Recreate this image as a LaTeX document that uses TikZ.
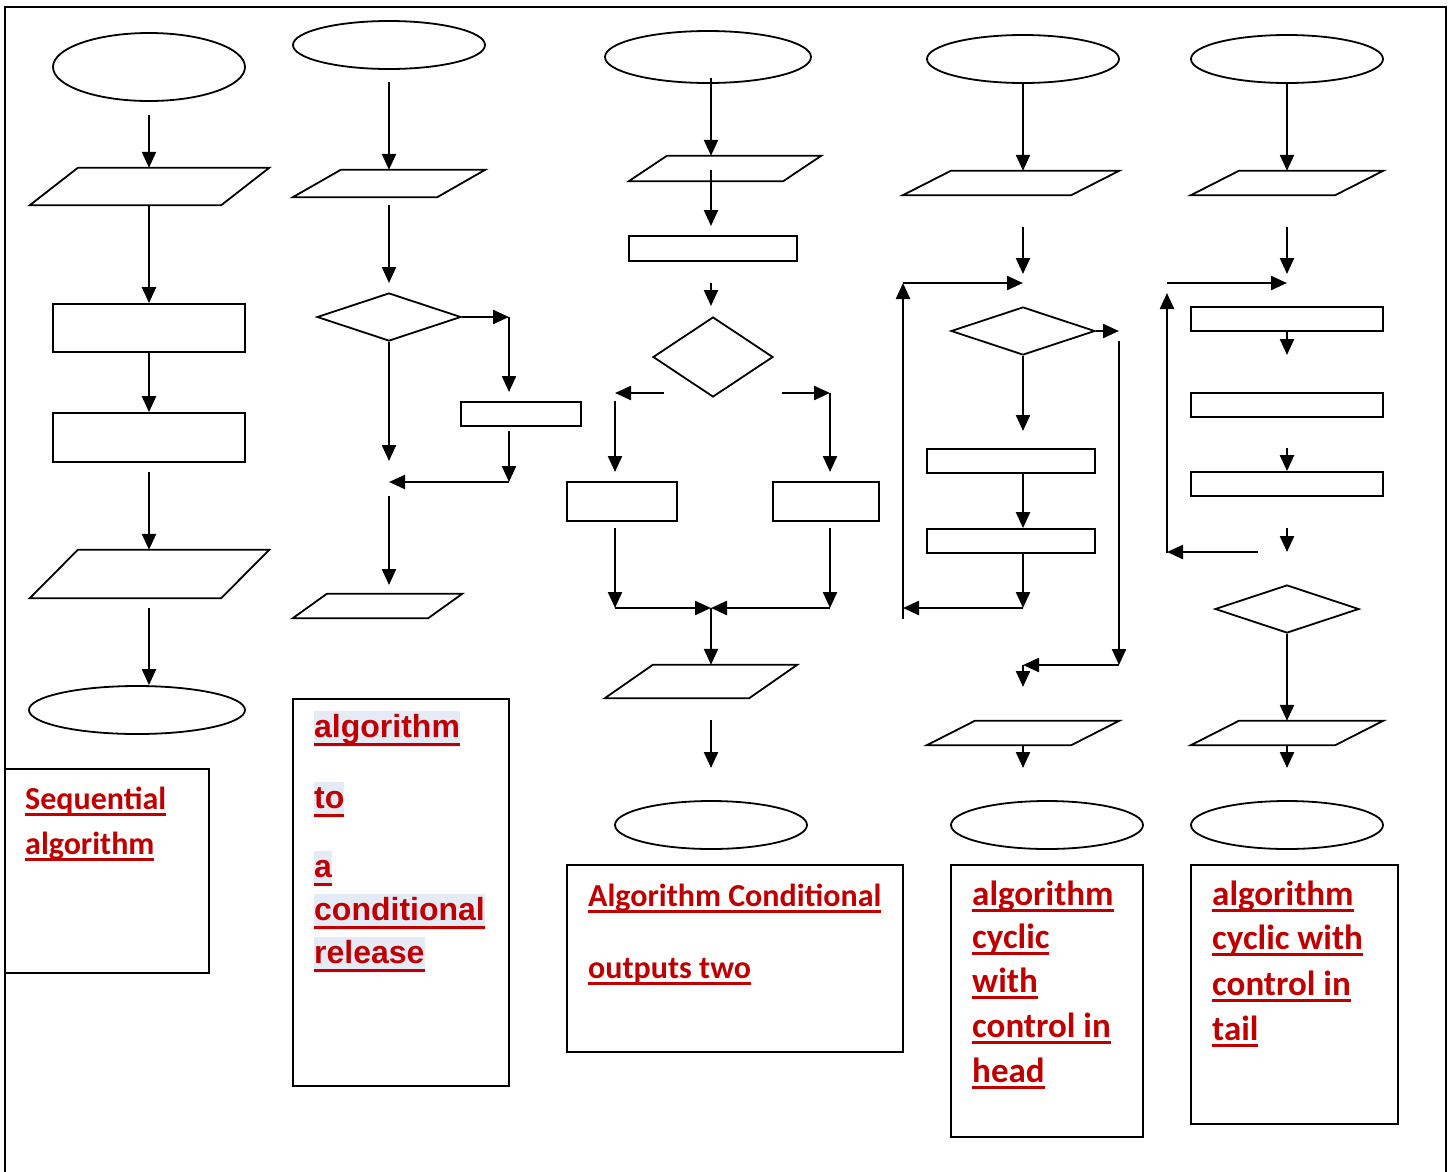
\documentclass[tikz,border=0pt]{standalone}
\usepackage{fontspec}
\usetikzlibrary{shapes.geometric,arrows.meta,calc}
\newfontfamily\calfont{Carlito}
\newfontfamily\arfont{Liberation Sans}
\definecolor{txtred}{HTML}{C00000}
\definecolor{hlc}{HTML}{E5EAF7}
\newcommand\myul[1]{\setbox0=\hbox{#1}\rlap{\rule[-7pt]{\wd0}{3pt}}\box0}
\newcommand\myhl[1]{\setbox0=\hbox{#1}\rlap{\color{hlc}\rule[-10pt]{\wd0}{36pt}}\rlap{\rule[-9pt]{\wd0}{3.5pt}}\box0}
% style, name, x1, y1, x2, y2
\newcommand\BoxAt[6]{\node[#1, minimum width={#5-#3}, minimum height={#6-#4}] (#2) at ({(#3+#5)/2},{(#4+#6)/2}) {};}
% name, x1, y1, x2, y2, slant
\newcommand\ParaAt[6]{\node[iobox, minimum width={#4-#2}, minimum height={#5-#3}] (#1) at ({(#2+#4)/2},{(#3+#5)/2}) {};
  \draw[shp] ($(#1.north west)+(#6,0)$) -- (#1.north east) -- ($(#1.south east)-(#6,0)$) -- (#1.south west) -- cycle;}
\tikzset{
  shp/.style={line width=1.8pt, line join=miter},
  arr/.style={line width=2.3pt, -{Triangle[length=16pt,width=14pt]}},
  term/.style={ellipse, draw, shp, inner sep=0pt},
  proc/.style={rectangle, draw, shp, inner sep=0pt},
  dec/.style={diamond, draw, shp, inner sep=0pt},
  iobox/.style={rectangle, inner sep=0pt},
  lbl/.style={rectangle, draw, line width=2pt, inner sep=0pt},
  caltxt/.style={anchor=base west, inner sep=0pt, text=txtred, font=\calfont\bfseries\fontsize{32}{38}\selectfont},
  cyctxt/.style={anchor=base west, inner sep=0pt, text=txtred, font=\calfont\bfseries\fontsize{35}{42}\selectfont},
  artxt/.style={anchor=base west, inner sep=0pt, text=txtred, font=\arfont\bfseries\fontsize{32}{38}\selectfont},
}
\begin{document}
\begin{tikzpicture}[x=1pt,y=-1pt]
\useasboundingbox (0,0) rectangle (1451,1171);
\fill[white] (0,0) rectangle (1451,1171);
\coordinate (fa) at (5,1180);
\coordinate (fb) at (5,7);
\coordinate (fc) at (1446,7);
\coordinate (fd) at (1446,1180);
\draw[line width=2pt] (fa) -- (fb) -- (fc) -- (fd);

% ---------------- column 1: sequential
\BoxAt{term}{c1s}{53}{33}{245}{101}
\ParaAt{c1p1}{30}{168}{269}{205}{48}
\BoxAt{proc}{c1r1}{53}{304}{245}{352}
\BoxAt{proc}{c1r2}{53}{413}{245}{462}
\ParaAt{c1p2}{30}{550}{269}{598}{48}
\BoxAt{term}{c1e}{29}{686}{245}{734}
\coordinate (c1a) at (149,115);
\coordinate (c1b) at (149,472);
\coordinate (c1c) at (149,608);
\draw[arr] (c1a) -- (c1a |- c1p1.north);
\draw[arr] (c1a |- c1p1.south) -- (c1a |- c1r1.north);
\draw[arr] (c1r1.south) -- (c1r2.north);
\draw[arr] (c1b) -- (c1b |- c1p2.north);
\draw[arr] (c1c) -- (c1c |- c1e.north);
\BoxAt{lbl}{c1L}{5}{769}{209}{973}
\node[caltxt] (t1a) at (25,809) {\myul{Sequential}};
\node[caltxt] (t1b) at (25,854) {\myul{algorithm}};

% ---------------- column 2: conditional release
\BoxAt{term}{c2s}{293}{21}{485}{69}
\ParaAt{c2p1}{293}{170}{485}{197}{48}
\BoxAt{dec}{c2d}{317}{293}{461}{341}
\BoxAt{proc}{c2r}{461}{402}{581}{426}
\ParaAt{c2p2}{293}{594}{462}{618}{34}
\coordinate (c2a) at (389,82);
\coordinate (c2b) at (389,205);
\coordinate (c2c) at (389,283);
\coordinate (c2e) at (509,317);
\coordinate (c2f) at (509,392);
\coordinate (c2g) at (509,431);
\coordinate (c2h) at (509,482);
\coordinate (c2i) at (389,482);
\coordinate (c2j) at (389,461);
\coordinate (c2k) at (389,496);
\coordinate (c2l) at (389,585);
\draw[arr] (c2a) -- (c2a |- c2p1.north);
\draw[arr] (c2b) -- (c2c);
\draw[arr] (c2d.east) -- (c2e);
\draw[arr] (c2e) -- (c2f);
\draw[arr] (c2g) -- (c2h);
\draw[arr] (c2h) -- (c2i);
\draw[arr] (c2d.south) -- (c2j);
\draw[arr] (c2k) -- (c2l);
\BoxAt{lbl}{c2L}{293}{699}{509}{1086}
\node[artxt] (t2a) at (314,737) {\myhl{algorithm}};
\node[artxt] (t2b) at (314,808) {\myhl{to}};
\node[artxt] (t2c) at (314,877) {\myhl{a}};
\node[artxt] (t2d) at (314,920) {\myhl{conditional}};
\node[artxt] (t2e) at (314,963) {\myhl{release}};

% ---------------- column 3: two outputs
\BoxAt{term}{c3s}{605}{31}{811}{83}
\ParaAt{c3p1}{629}{156}{821}{181}{38}
\BoxAt{proc}{c3r}{629}{236}{797}{261}
\BoxAt{dec}{c3d}{653}{317}{773}{397}
\BoxAt{proc}{c3rl}{567}{482}{677}{521}
\BoxAt{proc}{c3rr}{773}{482}{879}{521}
\ParaAt{c3p2}{605}{665}{797}{698}{48}
\BoxAt{term}{c3e}{615}{801}{807}{849}
\coordinate (c3a) at (711,78);
\coordinate (c3b) at (711,170);
\coordinate (c3c) at (711,226);
\coordinate (c3d1) at (711,283);
\coordinate (c3d2) at (711,306);
\coordinate (c3l1) at (664,393);
\coordinate (c3l2) at (615,393);
\coordinate (c3l3) at (615,401);
\coordinate (c3l4) at (615,472);
\coordinate (c3r1) at (782,393);
\coordinate (c3r2) at (830,393);
\coordinate (c3r4) at (830,472);
\coordinate (c3l5) at (615,528);
\coordinate (c3l6) at (615,608);
\coordinate (c3r5) at (830,528);
\coordinate (c3r6) at (830,608);
\coordinate (c3m) at (711,608);
\coordinate (c3n) at (711,720);
\coordinate (c3o) at (711,768);
\draw[arr] (c3a) -- (c3a |- c3p1.north);
\draw[arr] (c3b) -- (c3c);
\draw[arr] (c3d1) -- (c3d2);
\draw[arr] (c3l1) -- (c3l2);
\draw[arr] (c3l3) -- (c3l4);
\draw[arr] (c3r1) -- (c3r2);
\draw[arr] (c3r2) -- (c3r4);
\draw[arr] (c3l5) -- (c3l6);
\draw[arr] (c3r5) -- (c3r6);
\draw[arr] (c3l6) -- (c3m);
\draw[arr] (c3r6) -- (c3m);
\draw[arr] (c3m) -- (c3m |- c3p2.north);
\draw[arr] (c3n) -- (c3o);
\BoxAt{lbl}{c3L}{567}{865}{903}{1052}
\node[caltxt] (t3a) at (588,906) {\myul{Algorithm Conditional}};
\node[caltxt] (t3b) at (588,978) {\myul{outputs two}};

% ---------------- column 4: loop with control in head
\BoxAt{term}{c4s}{927}{35}{1119}{83}
\ParaAt{c4p1}{903}{171}{1119}{195}{48}
\BoxAt{dec}{c4d}{951}{307}{1095}{355}
\BoxAt{proc}{c4r1}{927}{449}{1095}{473}
\BoxAt{proc}{c4r2}{927}{529}{1095}{553}
\ParaAt{c4p2}{927}{721}{1119}{745}{48}
\BoxAt{term}{c4e}{951}{801}{1143}{849}
\coordinate (c4a) at (1023,83);
\coordinate (c4b) at (1023,227);
\coordinate (c4c) at (1023,274);
\coordinate (c4g) at (903,619);
\coordinate (c4h) at (903,283);
\coordinate (c4i) at (1023,283);
\coordinate (c4j) at (1119,331);
\coordinate (c4k) at (1119,341);
\coordinate (c4l) at (1119,665);
\coordinate (c4m) at (1023,665);
\coordinate (c4n) at (1023,687);
\coordinate (c4o) at (1023,431);
\coordinate (c4p) at (1023,608);
\coordinate (c4q) at (903,608);
\coordinate (c4r) at (1023,768);
\draw[arr] (c4a) -- (c4a |- c4p1.north);
\draw[arr] (c4b) -- (c4c);
\draw[arr] (c4g) -- (c4h);
\draw[arr] (c4h) -- (c4i);
\draw[arr] (c4d.east) -- (c4j);
\draw[arr] (c4k) -- (c4l);
\draw[arr] (c4l) -- (c4m);
\draw[arr] (c4m) -- (c4n);
\draw[arr] (c4d.south) -- (c4o);
\draw[arr] (c4o |- c4r1.south) -- (c4o |- c4r2.north);
\draw[arr] (c4o |- c4r2.south) -- (c4p);
\draw[arr] (c4p) -- (c4q);
\draw[arr] (c4p2.south) -- (c4r);
\BoxAt{lbl}{c4L}{951}{865}{1143}{1137}
\node[cyctxt] (t4a) at (972,905) {\myul{algorithm}};
\node[cyctxt] (t4b) at (972,948) {\myul{cyclic}};
\node[cyctxt] (t4c) at (972,992) {\myul{with}};
\node[cyctxt] (t4d) at (972,1037) {\myul{control in}};
\node[cyctxt] (t4e) at (972,1082) {\myul{head}};

% ---------------- column 5: loop with control in tail
\BoxAt{term}{c5s}{1191}{35}{1383}{83}
\ParaAt{c5p1}{1191}{171}{1383}{195}{48}
\BoxAt{proc}{c5r1}{1191}{307}{1383}{331}
\BoxAt{proc}{c5r2}{1191}{393}{1383}{417}
\BoxAt{proc}{c5r3}{1191}{472}{1383}{496}
\BoxAt{dec}{c5d}{1215}{585}{1359}{633}
\ParaAt{c5p2}{1191}{721}{1383}{745}{48}
\BoxAt{term}{c5e}{1191}{801}{1383}{849}
\coordinate (c5b) at (1287,227);
\coordinate (c5c) at (1287,274);
\coordinate (c5g) at (1167,283);
\coordinate (c5h) at (1287,283);
\coordinate (c5i) at (1167,553);
\coordinate (c5j) at (1167,293);
\coordinate (c5k) at (1287,355);
\coordinate (c5l) at (1287,448);
\coordinate (c5m) at (1287,528);
\coordinate (c5n) at (1287,552);
\coordinate (c5o) at (1258,552);
\coordinate (c5p) at (1167,552);
\coordinate (c5q) at (1287,768);
\draw[arr] (c5s.south) -- (c5p1.north);
\draw[arr] (c5b) -- (c5c);
\draw[arr] (c5g) -- (c5h);
\draw[arr] (c5i) -- (c5j);
\draw[arr] (c5r1.south) -- (c5k);
\draw[arr] (c5l) -- (c5r3.north);
\draw[arr] (c5m) -- (c5n);
\draw[arr] (c5o) -- (c5p);
\draw[arr] (c5d.south) -- (c5p2.north);
\draw[arr] (c5p2.south) -- (c5q);
\BoxAt{lbl}{c5L}{1191}{865}{1398}{1124}
\node[cyctxt] (t5a) at (1212,905) {\myul{algorithm}};
\node[cyctxt] (t5b) at (1212,949) {\myul{cyclic with}};
\node[cyctxt] (t5c) at (1212,995) {\myul{control in}};
\node[cyctxt] (t5d) at (1212,1040) {\myul{tail}};
\end{tikzpicture}
\end{document}
